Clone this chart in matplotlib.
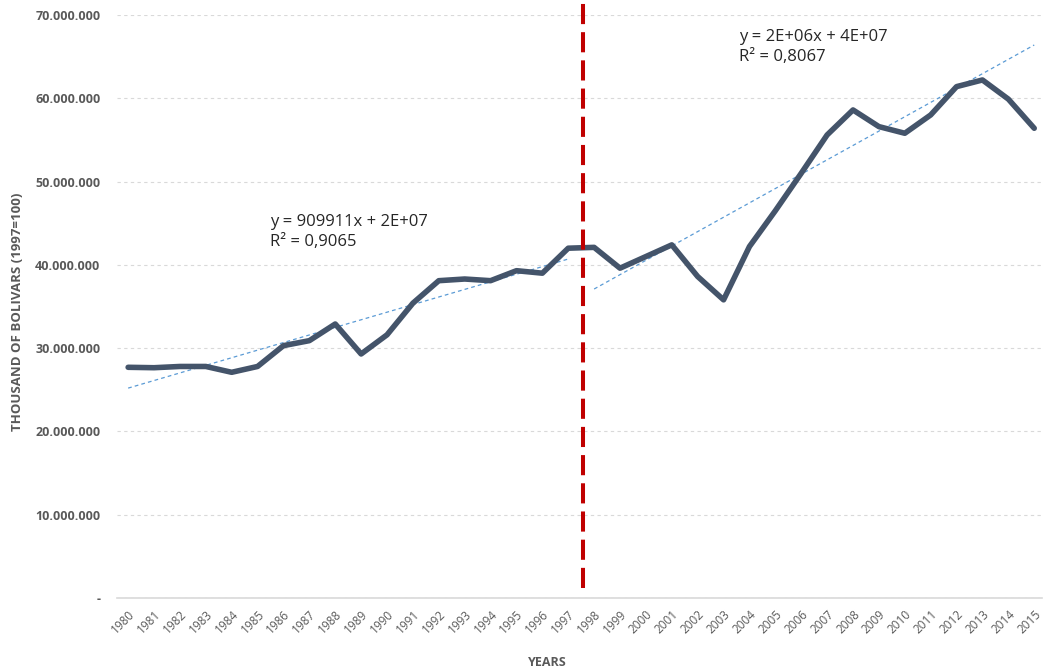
import numpy as np
import matplotlib
matplotlib.use("Agg")
import matplotlib.pyplot as plt
from matplotlib.ticker import FuncFormatter, MultipleLocator

plt.rcParams['font.family'] = ['Open Sans', 'DejaVu Sans']

years = list(range(1980, 2016))
values = [27.7, 27.65, 27.8, 27.8, 27.1, 27.8, 30.3, 30.9, 32.9, 29.3,
          31.6, 35.4, 38.1, 38.3, 38.1, 39.3, 39.0, 42.0, 42.1, 39.6,
          41.0, 42.4, 38.6, 35.8, 42.2, 46.5, 51.0, 55.6, 58.6, 56.6,
          55.8, 58.0, 61.4, 62.2, 59.9, 56.4]
values = [v * 1e6 for v in values]

# trendlines as shown (end points)
trend1_years = [1980, 1997]
trend1_values = [25.2e6, 40.7e6]
trend2_years = [1998, 2015]
trend2_values = [37.1e6, 66.4e6]

break_year = 1997.57
eq1 = "y = 909911x + 2E+07\nR² = 0,9065"
eq2 = "y = 2E+06x + 4E+07\nR² = 0,8067"

fig = plt.figure(figsize=(10.43, 6.71), dpi=100)
ax = fig.add_axes([117/1043, 73/671, 925/1043, 583/671])

ax.set_xlim(1979.57, 2015.3)
ax.set_ylim(0, 70e6)

ax.yaxis.set_major_locator(MultipleLocator(10e6))
ax.grid(axis='y', color='#d9d9d9', linestyle=(0, (3, 3)), linewidth=0.8)
ax.set_axisbelow(True)
for s in ['top', 'right', 'left']:
    ax.spines[s].set_visible(False)
ax.spines['bottom'].set_color('#d9d9d9')
ax.spines['bottom'].set_linewidth(1.2)

for ty, tv in ((trend1_years, trend1_values), (trend2_years, trend2_values)):
    ax.plot(ty, tv, color='#5B9BD5', linestyle=(0, (3, 2.5)), linewidth=0.9, zorder=2)

ax.plot(years, values, color='#44546A', linewidth=4, solid_capstyle='round',
        solid_joinstyle='round', zorder=3)

ax.plot([break_year, break_year], [1.2e6, 71.8e6], color='#C00000', linewidth=2.9,
        linestyle=(0, (5, 2)), clip_on=False, zorder=4)

ax.text(1985.48, 46.1e6, eq1, fontsize=12, color='#262626', va='top', linespacing=1.3)
ax.text(2003.6, 68.3e6, eq2, fontsize=12, color='#262626', va='top', linespacing=1.3)

def fmt(v, pos):
    if abs(v) < 1:
        return '-'
    return f"{int(round(v)):,}".replace(',', '.')
ax.yaxis.set_major_formatter(FuncFormatter(fmt))
ax.tick_params(axis='y', length=0, pad=12, labelsize=9, labelcolor='#595959')
for lab in ax.get_yticklabels():
    lab.set_fontweight('bold')

ax.set_xticks(years)
ax.set_xticklabels([str(y) for y in years], rotation=45, ha='right', rotation_mode='anchor',
                   fontsize=8.5, color='#595959')
ax.tick_params(axis='x', length=0, pad=7)

ax.set_xlabel('YEARS', fontsize=9, fontweight='bold', color='#595959', va='center')
ax.set_ylabel('THOUSAND OF BOLIVARS (1997=100)', fontsize=9.5, fontweight='bold',
              color='#595959', va='center')
ax.xaxis.set_label_coords((547-117)/925, -(663-598)/583)
ax.yaxis.set_label_coords(-(117-18)/925, (598-312)/583)

fig.savefig('out.png', dpi=100, facecolor='white')
